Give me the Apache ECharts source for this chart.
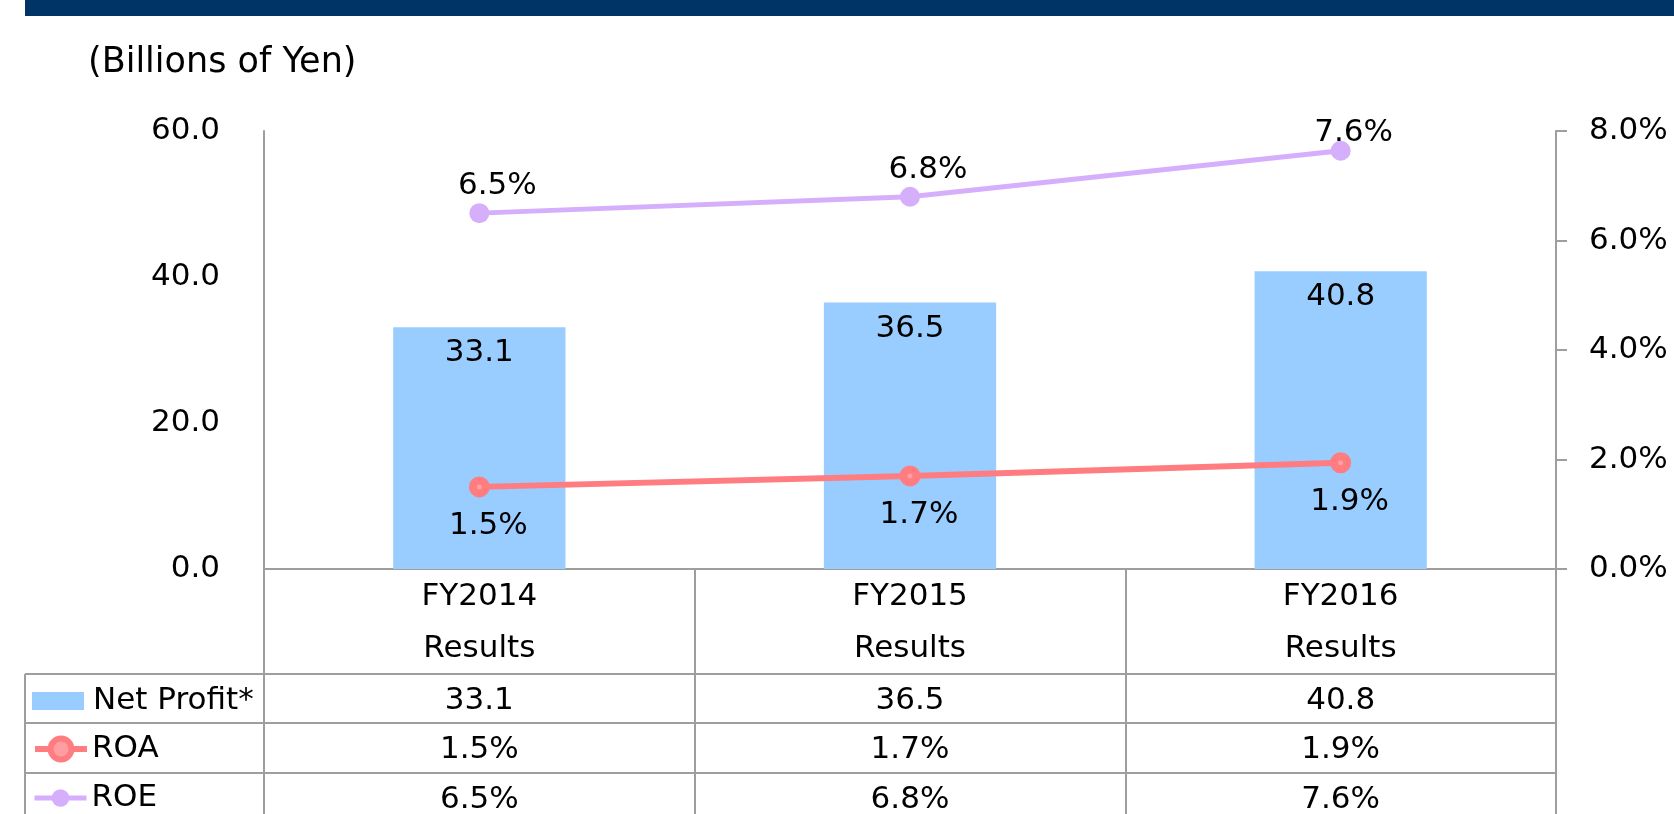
<!DOCTYPE html>
<html><head><meta charset="utf-8">
<script src="https://cdn.jsdelivr.net/npm/echarts@6/dist/echarts.min.js"></script>
<style>html,body{margin:0;padding:0;background:#fff}#c{width:1674px;height:814px}</style>
</head><body><div id="c"></div>
<script>
// ---- data ----
const categories = ['FY2014', 'FY2015', 'FY2016'];
const categorySub = ['Results', 'Results', 'Results'];
const netProfit = [33.1, 36.5, 40.8];
const roa = [1.5, 1.7, 1.94];
const roe = [6.5, 6.8, 7.64];
const leftAxisRange = [0, 60];
const leftAxisStep = 20;
const rightAxisRange = [0, 8];
const rightAxisStep = 2;
const unitText = '(Billions of Yen)';
const seriesNames = ['Net Profit*', 'ROA', 'ROE'];

// ---- style ----
const FONT = "'DejaVu Sans',sans-serif";
const FS = 31;
const GRAY = '#9e9e9e';
const BLUE = '#99CCFF', RED = '#FF7C80', LAV = '#D5AFFB';

const pct = v => v.toFixed(1) + '%';
const txt = {fontFamily: FONT, fontSize: FS, color: '#000'};

function rowAxis(labels, offset) {
  return {
    type: 'category', gridIndex: 0, position: 'bottom', offset: offset,
    data: labels,
    axisLine: {show: false}, axisTick: {show: false}, splitLine: {show: false},
    axisLabel: Object.assign({margin: 0, lineHeight: 40, interval: 0}, txt)
  };
}
function legendRow(name, top, w, h, textPad, extra) {
  return Object.assign({
    data: [name], left: 32, top: top, padding: 0, itemWidth: w, itemHeight: h,
    selectedMode: false,
    textStyle: Object.assign({lineHeight: 40, padding: [0, 0, 0, textPad]}, txt)
  }, extra || {});
}

// ROE label of the last point sits closer to its marker (kept inside the plot)
const roeData = roe.map((v, i) => i === roe.length - 1
  ? {value: v, label: {offset: [13, 9]}} : v);

const chart = echarts.init(document.getElementById('c'), null, {renderer: 'canvas'});
chart.setOption({
  animation: false,
  backgroundColor: '#fff',
  grid: {left: 264, right: 118, top: 131, bottom: 245, outerBoundsMode: 'none', containLabel: false},
  legend: [
    legendRow(seriesNames[0], 681, 52, 18, 4, {icon: 'rect'}),
    legendRow(seriesNames[1], 729, 52, 26, 0, {lineStyle: {width: 6},
      itemStyle: {borderWidth: 6}}),
    legendRow(seriesNames[2], 778, 52, 22, 0, {lineStyle: {width: 5}})
  ],
  xAxis: [
    {
      type: 'category', gridIndex: 0, position: 'bottom',
      data: categories.map((c, i) => c + '\n' + categorySub[i]),
      axisLine: {show: true, lineStyle: {color: GRAY, width: 2}},
      axisTick: {show: true, inside: false, length: 250, interval: 0, lineStyle: {color: GRAY, width: 2}},
      axisLabel: Object.assign({margin: 2, lineHeight: 52, interval: 0}, txt)
    },
    rowAxis(netProfit.map(v => v.toFixed(1)), 112),
    rowAxis(roa.map(pct), 161),
    rowAxis(roe.map(pct), 211)
  ],
  yAxis: [
    {
      type: 'value', min: leftAxisRange[0], max: leftAxisRange[1], interval: leftAxisStep,
      axisLine: {show: true, lineStyle: {color: GRAY, width: 2}},
      axisTick: {show: false}, splitLine: {show: false},
      axisLabel: Object.assign({margin: 44, formatter: v => v.toFixed(1)}, txt)
    },
    {
      type: 'value', position: 'right', min: rightAxisRange[0], max: rightAxisRange[1], interval: rightAxisStep,
      axisLine: {show: true, lineStyle: {color: GRAY, width: 2}},
      axisTick: {show: true, inside: false, length: 11, lineStyle: {color: GRAY, width: 2}},
      splitLine: {show: false},
      axisLabel: Object.assign({margin: 33, formatter: v => pct(v)}, txt)
    }
  ],
  series: [
    {
      name: seriesNames[0], type: 'bar', xAxisIndex: 0, yAxisIndex: 0,
      data: netProfit, barWidth: '40%',
      itemStyle: {color: BLUE},
      label: Object.assign({show: true, position: 'insideTop', distance: 9, lineHeight: 34,
        formatter: p => p.value.toFixed(1)}, txt)
    },
    {
      name: seriesNames[1], type: 'line', xAxisIndex: 0, yAxisIndex: 1,
      data: roa, symbol: 'circle', symbolSize: 13,
      lineStyle: {color: RED, width: 6},
      itemStyle: {color: '#FF9EA1', borderColor: RED, borderWidth: 8},
      label: Object.assign({show: true, position: 'bottom', distance: 12, offset: [9, 0], lineHeight: 34,
        formatter: p => pct(p.value)}, txt)
    },
    {
      name: seriesNames[2], type: 'line', xAxisIndex: 0, yAxisIndex: 1,
      data: roeData, symbol: 'circle', symbolSize: 20,
      lineStyle: {color: LAV, width: 5},
      itemStyle: {color: LAV},
      label: Object.assign({show: true, position: 'top', distance: 0, offset: [18, 0], lineHeight: 34,
        formatter: p => pct(p.value)}, txt)
    }
  ],
  graphic: [
    {type: 'rect', shape: {x: 25, y: 0, width: 1649, height: 16}, style: {fill: '#003366'}, silent: true},
    {type: 'text', x: 88, y: 63, style: {text: unitText, verticalAlign: 'middle',
      font: '35px ' + FONT, fill: '#000'}},
    {type: 'line', shape: {x1: 25, y1: 674, x2: 1556, y2: 674}, style: {stroke: GRAY, lineWidth: 2}},
    {type: 'line', shape: {x1: 25, y1: 723, x2: 1556, y2: 723}, style: {stroke: GRAY, lineWidth: 2}},
    {type: 'line', shape: {x1: 25, y1: 773, x2: 1556, y2: 773}, style: {stroke: GRAY, lineWidth: 2}},
    {type: 'line', shape: {x1: 25, y1: 674, x2: 25, y2: 814}, style: {stroke: GRAY, lineWidth: 2}}
  ]
});
</script></body></html>
